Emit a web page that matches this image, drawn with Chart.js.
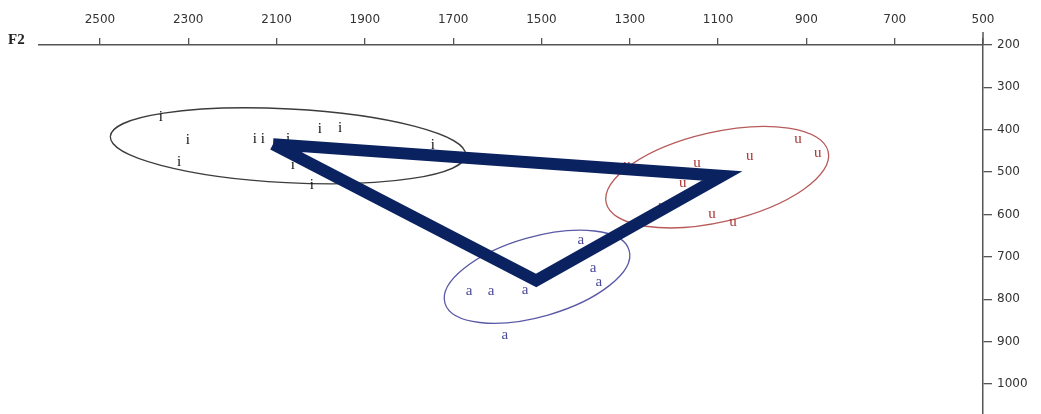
<!DOCTYPE html>
<html>
<head>
<meta charset="utf-8">
<script src="https://cdn.jsdelivr.net/npm/chart.js@4/dist/chart.umd.min.js"></script>
<style>
  html, body { margin: 0; padding: 0; background: #fff; }
  #wrap { width: 1041px; height: 414px; position: relative; }
</style>
</head>
<body>
<div id="wrap"><canvas id="vowelChart"></canvas></div>
<script>
// Axis ticks (Hz). F2 runs right-to-left along the top, F1 top-to-bottom on the right.
const F2_TICKS = [2500, 2300, 2100, 1900, 1700, 1500, 1300, 1100, 900, 700, 500];
const F1_TICKS = [200, 300, 400, 500, 600, 700, 800, 900, 1000];

// Individual tokens.
const I_F2 = [2362, 2301, 2321, 2149, 2131, 2074, 2002, 1956, 2063, 2020, 1746];
const I_F1 = [370, 424, 476, 422, 422, 422, 398, 396, 483, 530, 436];

const A_F2 = [1411, 1383, 1370, 1664, 1614, 1537, 1583];
const A_F1 = [660, 726, 759, 780, 780, 778, 884];

const U_F2 = [919, 874, 1028, 1148, 1180, 1227, 1114, 1066, 1306];
const U_F1 = [422, 455, 462, 478, 526, 580, 599, 618, 483];

// Mean of each vowel, joined into the vowel triangle (i -> u -> a -> i).
const MEAN_F2 = [2108, 1091, 1512, 2108];
const MEAN_F1 = [434, 509, 756, 434];

// Spread ellipses: [centre F2, centre F1, half-width in F2, half-height in F1, tilt in degrees]
const ELLIPSE_I = [2074, 438, 403, 87, 3];
const ELLIPSE_A = [1510, 747, 217, 94, -16];
const ELLIPSE_U = [1102, 512, 258, 106, -13];

const pts = (xs, ys) => xs.map((x, k) => ({ x, y: ys[k] }));

const ELLIPSES = [
  { p: ELLIPSE_I, color: '#3c3c3c' },
  { p: ELLIPSE_A, color: '#5a5aa6' },
  { p: ELLIPSE_U, color: '#b85a5a' },
];

// Ellipses sit under everything else; the axis stub and the "F2" caption go on last.
const vowelPlugin = {
  id: 'vowelPlugin',
  beforeDatasetsDraw(chart) {
    const { ctx, scales: { x, y } } = chart;
    ctx.save();
    ctx.lineWidth = 1.3;
    ELLIPSES.forEach(e => {
      const [cx, cy, rx, ry, deg] = e.p;
      const px = x.getPixelForValue(cx);
      const py = y.getPixelForValue(cy);
      const rxPx = Math.abs(x.getPixelForValue(cx + rx) - px);
      const ryPx = Math.abs(y.getPixelForValue(cy + ry) - py);
      ctx.strokeStyle = e.color;
      ctx.beginPath();
      ctx.ellipse(px, py, rxPx, ryPx, deg * Math.PI / 180, 0, Math.PI * 2);
      ctx.stroke();
    });
    ctx.restore();
  },
  afterDatasetDraw(chart, args) {
    const ds = chart.data.datasets[args.index];
    if (!ds.letter) return;
    const { ctx } = chart;
    ctx.save();
    ctx.font = '15px "Liberation Serif", serif';
    ctx.fillStyle = ds.letterColor;
    ctx.textAlign = 'center';
    ctx.textBaseline = 'middle';
    args.meta.data.forEach(el => ctx.fillText(ds.letter, el.x, el.y));
    ctx.restore();
  },
  afterDraw(chart) {
    const { ctx, chartArea: a } = chart;
    ctx.save();
    ctx.strokeStyle = '#555';
    ctx.lineWidth = 1.5;
    ctx.beginPath();
    ctx.moveTo(a.right, a.top - 13);
    ctx.lineTo(a.right, a.top);
    ctx.stroke();
    ctx.fillStyle = '#222';
    ctx.font = 'bold 15px "Liberation Serif", serif';
    ctx.textAlign = 'left';
    ctx.textBaseline = 'middle';
    ctx.fillText('F2', 8, 40);
    ctx.restore();
  },
};

const letterSet = (letter, color, xs, ys) => ({
  type: 'scatter',
  data: pts(xs, ys),
  letter,
  letterColor: color,
  pointRadius: 0,
  pointHoverRadius: 0,
  order: 1,
});

const tickFont = { family: '"DejaVu Sans", sans-serif', size: 12 };
const plain = v => String(v);

new Chart(document.getElementById('vowelChart'), {
  type: 'scatter',
  data: {
    datasets: [
      letterSet('i', '#111111', I_F2, I_F1),
      letterSet('a', '#4b4b9c', A_F2, A_F1),
      letterSet('u', '#a83232', U_F2, U_F1),
      {
        type: 'scatter',
        data: pts(MEAN_F2, MEAN_F1),
        showLine: true,
        borderColor: '#0b2260',
        borderWidth: 12,
        borderJoinStyle: 'miter',
        borderCapStyle: 'butt',
        pointRadius: 0,
        pointHoverRadius: 0,
        order: 0,
      },
    ],
  },
  options: {
    responsive: true,
    maintainAspectRatio: false,
    animation: false,
    events: [],
    layout: { padding: { left: 39, right: 0, top: 0, bottom: 0 } },
    plugins: { legend: { display: false }, tooltip: { enabled: false } },
    scales: {
      x: {
        type: 'linear',
        position: 'top',
        reverse: true,
        min: 500,
        max: 2638,
        afterBuildTicks: s => { s.ticks = F2_TICKS.map(value => ({ value })); },
        afterFit: s => { s.height = 45; s.paddingLeft = 0; s.paddingRight = 0; },
        grid: { drawOnChartArea: false, drawTicks: true, tickLength: 7, color: '#555', lineWidth: 1.3 },
        border: { color: '#555', width: 1.5 },
        ticks: { color: '#333', font: tickFont, padding: 11, maxRotation: 0, autoSkip: false, callback: plain },
      },
      y: {
        type: 'linear',
        position: 'right',
        reverse: true,
        min: 200,
        max: 1071,
        afterBuildTicks: s => { s.ticks = F1_TICKS.map(value => ({ value })); },
        afterFit: s => { s.width = 58; s.paddingTop = 0; s.paddingBottom = 0; },
        grid: { drawOnChartArea: false, drawTicks: true, tickLength: 9, color: '#555', lineWidth: 1.3 },
        border: { color: '#555', width: 1.5 },
        ticks: { color: '#333', font: tickFont, padding: 5, autoSkip: false, callback: plain },
      },
    },
  },
  plugins: [vowelPlugin],
});
</script>
</body>
</html>
